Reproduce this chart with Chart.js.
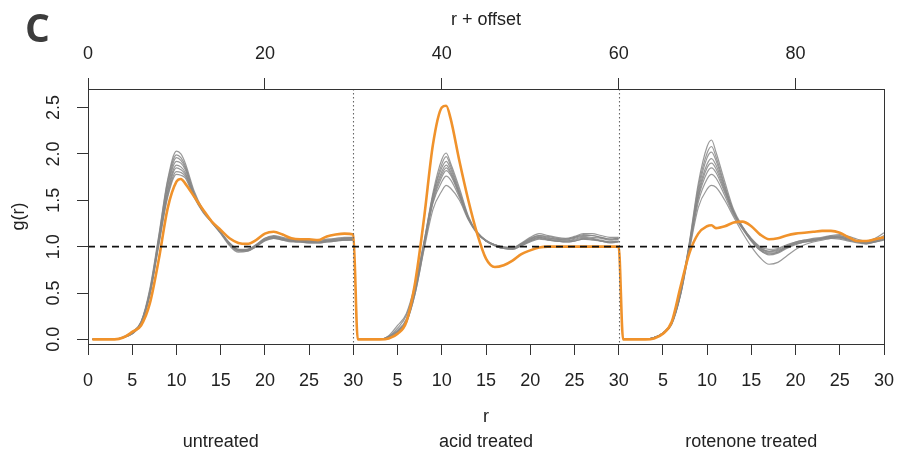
<!DOCTYPE html>
<html>
<head>
<meta charset="utf-8">
<script src="https://cdn.jsdelivr.net/npm/chart.js@4.4.1/dist/chart.umd.min.js"></script>
<style>
  html, body { margin: 0; padding: 0; background: #fff; }
</style>
</head>
<body>
<canvas id="gr-chart" width="897" height="452"></canvas>
<script>
// r values sampled in every panel
const rGrid = [0.5, 1, 2, 3, 4, 5, 6, 7, 8, 9, 10, 10.5, 11, 12, 13, 14, 15, 16, 17, 18, 19, 20,
               21, 22, 23, 24, 25, 26, 27, 28, 29, 30];

const panelOffsets = [0, 30, 60];
const panelNames = ['untreated', 'acid treated', 'rotenone treated'];
const yTicks = [0, 0.5, 1, 1.5, 2, 2.5];
const refLevel = 1;

// untreated replicates (grey)
const untreatedGray = [
    [0,0,0,0,0.02,0.07,0.19,0.55,1.12,1.72,2.03,2.00,1.90,1.60,1.40,1.27,1.15,1.02,0.95,0.96,1.01,1.08,1.11,1.09,1.07,1.06,1.06,1.05,1.07,1.08,1.09,1.09],
    [0,0,0,0,0.02,0.06,0.18,0.53,1.10,1.70,1.99,1.96,1.87,1.58,1.39,1.26,1.14,1.01,0.94,0.95,1.00,1.07,1.10,1.08,1.06,1.05,1.05,1.05,1.06,1.07,1.08,1.08],
    [0,0,0,0,0.02,0.07,0.17,0.50,1.07,1.66,1.96,1.93,1.85,1.57,1.39,1.27,1.15,1.03,0.96,0.97,1.02,1.09,1.12,1.10,1.08,1.07,1.07,1.07,1.08,1.09,1.10,1.10],
    [0,0,0,0,0.03,0.08,0.19,0.52,1.08,1.64,1.92,1.90,1.83,1.56,1.39,1.27,1.15,1.03,0.96,0.96,1.01,1.08,1.10,1.08,1.06,1.06,1.05,1.05,1.06,1.07,1.08,1.08],
    [0,0,0,0,0.02,0.06,0.17,0.49,1.04,1.60,1.88,1.86,1.80,1.55,1.38,1.27,1.16,1.04,0.97,0.97,1.02,1.09,1.11,1.09,1.07,1.07,1.06,1.06,1.07,1.08,1.09,1.10],
    [0,0,0,0,0.02,0.07,0.18,0.50,1.05,1.58,1.85,1.83,1.78,1.55,1.38,1.27,1.15,1.03,0.96,0.96,1.01,1.07,1.10,1.08,1.07,1.06,1.05,1.05,1.06,1.07,1.07,1.08],
    [0,0,0,0,0.02,0.06,0.16,0.48,1.02,1.55,1.81,1.80,1.76,1.54,1.38,1.26,1.15,1.04,0.97,0.96,1.01,1.07,1.09,1.07,1.06,1.05,1.04,1.04,1.05,1.06,1.07,1.07],
    [0,0,0,0,0.02,0.07,0.18,0.49,1.02,1.53,1.78,1.77,1.74,1.53,1.37,1.26,1.15,1.04,0.96,0.95,1.00,1.06,1.09,1.07,1.05,1.05,1.04,1.04,1.05,1.06,1.07,1.07]
];

// acid treated replicates (grey)
const acidGray = [
    [0,0,0,0,0.03,0.10,0.22,0.55,1.05,1.58,1.94,2.01,1.90,1.63,1.33,1.15,1.06,1.02,0.99,0.98,1.03,1.09,1.12,1.10,1.08,1.08,1.10,1.13,1.12,1.10,1.08,1.09],
    [0,0,0,0,0.02,0.08,0.20,0.53,1.03,1.55,1.89,1.97,1.87,1.60,1.32,1.15,1.06,1.01,0.98,0.97,1.01,1.06,1.10,1.08,1.07,1.06,1.08,1.10,1.09,1.07,1.05,1.06],
    [0,0,0,0,0.03,0.12,0.26,0.58,1.06,1.55,1.85,1.92,1.84,1.58,1.31,1.15,1.06,1.02,0.99,0.98,1.03,1.08,1.12,1.11,1.09,1.08,1.10,1.12,1.12,1.10,1.08,1.09],
    [0,0,0,0,0.02,0.07,0.19,0.52,1.01,1.52,1.81,1.88,1.81,1.57,1.31,1.15,1.06,1.02,0.99,0.98,1.02,1.07,1.10,1.08,1.06,1.06,1.07,1.09,1.08,1.06,1.05,1.05],
    [0,0,0,0,0.03,0.09,0.21,0.54,1.02,1.50,1.78,1.85,1.79,1.56,1.31,1.16,1.07,1.02,0.99,0.99,1.04,1.10,1.14,1.12,1.10,1.09,1.11,1.14,1.14,1.12,1.10,1.10],
    [0,0,0,0,0.02,0.07,0.18,0.50,0.99,1.48,1.75,1.82,1.77,1.55,1.30,1.15,1.06,1.01,0.98,0.97,1.01,1.05,1.08,1.07,1.06,1.05,1.06,1.08,1.07,1.06,1.04,1.05],
    [0,0,0,0,0.04,0.15,0.28,0.60,1.04,1.47,1.70,1.76,1.72,1.53,1.30,1.15,1.07,1.02,1.00,0.99,1.03,1.08,1.11,1.09,1.08,1.07,1.09,1.11,1.10,1.09,1.07,1.08],
    [0,0,0,0,0.02,0.08,0.19,0.50,0.97,1.40,1.60,1.66,1.63,1.50,1.29,1.14,1.06,1.01,0.98,0.98,1.02,1.06,1.09,1.07,1.06,1.05,1.06,1.08,1.08,1.06,1.05,1.06]
];

// rotenone treated replicates (grey)
const rotenoneGray = [
    [0,0,0,0,0.02,0.06,0.18,0.52,1.05,1.68,2.08,2.15,2.02,1.70,1.40,1.22,1.08,0.98,0.94,0.95,1.00,1.04,1.06,1.07,1.08,1.10,1.10,1.08,1.06,1.04,1.05,1.08],
    [0,0,0,0,0.02,0.07,0.19,0.53,1.04,1.64,2.01,2.08,1.97,1.66,1.38,1.21,1.07,0.97,0.93,0.94,0.99,1.03,1.05,1.07,1.09,1.11,1.10,1.07,1.05,1.04,1.06,1.10],
    [0,0,0,0,0.02,0.06,0.17,0.50,1.02,1.60,1.96,2.02,1.93,1.64,1.38,1.21,1.08,0.99,0.95,0.96,1.00,1.04,1.06,1.08,1.09,1.11,1.12,1.09,1.06,1.05,1.07,1.12],
    [0,0,0,0,0.02,0.07,0.18,0.51,1.02,1.57,1.89,1.95,1.88,1.62,1.37,1.20,1.06,0.96,0.92,0.94,0.99,1.03,1.05,1.06,1.08,1.09,1.08,1.06,1.04,1.03,1.05,1.08],
    [0,0,0,0,0.02,0.06,0.17,0.49,1.00,1.54,1.85,1.90,1.84,1.60,1.36,1.20,1.07,0.98,0.95,0.97,1.01,1.05,1.07,1.09,1.10,1.12,1.13,1.11,1.08,1.06,1.09,1.15],
    [0,0,0,0,0.02,0.07,0.18,0.50,1.01,1.52,1.80,1.85,1.80,1.58,1.36,1.21,1.09,1.00,0.97,0.98,1.02,1.05,1.07,1.08,1.09,1.10,1.09,1.07,1.05,1.04,1.06,1.09],
    [0,0,0,0,0.02,0.06,0.16,0.48,0.98,1.48,1.73,1.78,1.74,1.55,1.34,1.19,1.06,0.96,0.91,0.93,0.98,1.02,1.05,1.07,1.09,1.11,1.11,1.09,1.06,1.04,1.06,1.10],
    [0,0,0,0,0.02,0.07,0.17,0.48,0.96,1.42,1.62,1.66,1.64,1.50,1.32,1.15,1.00,0.88,0.81,0.83,0.90,0.97,1.02,1.05,1.07,1.09,1.10,1.08,1.05,1.03,1.05,1.07]
];

// highlighted sample (orange), one array per panel
const untreatedOrange = [0,0,0,0,0.02,0.08,0.15,0.39,0.86,1.41,1.70,1.73,1.68,1.54,1.40,1.27,1.18,1.09,1.04,1.03,1.07,1.14,1.16,1.13,1.09,1.08,1.08,1.07,1.11,1.13,1.14,1.13];
const acidOrange = [0,0,0,0,0.01,0.06,0.19,0.62,1.31,2.10,2.50,2.52,2.38,1.92,1.50,1.14,0.87,0.78,0.80,0.85,0.92,0.96,0.99,1.00,1.00,1.00,1.00,1.00,1.00,1.00,1.00,1.00];
const rotenoneOrange = [0,0,0,0,0.01,0.06,0.19,0.57,0.93,1.14,1.22,1.23,1.20,1.22,1.26,1.27,1.22,1.13,1.08,1.09,1.12,1.14,1.15,1.16,1.17,1.17,1.15,1.10,1.06,1.06,1.08,1.10];

const FONT = '"Liberation Sans", Arial, sans-serif';
const TEXT = '#222';
const AXIS = '#333';

function toPoints(values, offset) {
    return values.map((v, i) => ({ x: rGrid[i] + offset, y: v }));
}

function bottomLabel(v) {
    if (v === 0) return '0';
    const m = v % 30;
    return m === 0 ? '30' : String(m);
}

const datasets = [];
datasets.push({
    data: [
        ...toPoints(untreatedOrange, panelOffsets[0]),
        ...toPoints(acidOrange, panelOffsets[1]),
        ...toPoints(rotenoneOrange, panelOffsets[2])
    ],
    borderColor: '#f0922b',
    borderWidth: 2.6
});
[untreatedGray, acidGray, rotenoneGray].forEach((reps, p) => {
    reps.forEach(rep => {
        datasets.push({
            data: toPoints(rep, panelOffsets[p]),
            borderColor: 'rgba(135,135,135,0.85)',
            borderWidth: 1.2
        });
    });
});

const overlay = {
    id: 'overlay',
    afterDatasetsDraw(chart) {
        const { ctx, chartArea: a, scales: { x, y } } = chart;
        ctx.save();
        // panel separators
        ctx.strokeStyle = '#666';
        ctx.lineWidth = 1.1;
        ctx.setLineDash([1.5, 2.5]);
        [30, 60].forEach(b => {
            const px = Math.round(x.getPixelForValue(b)) + 0.5;
            ctx.beginPath();
            ctx.moveTo(px, a.top);
            ctx.lineTo(px, a.bottom);
            ctx.stroke();
        });
        // g(r) = 1 reference
        ctx.strokeStyle = '#111';
        ctx.lineWidth = 1.6;
        ctx.setLineDash([7, 5]);
        const py = y.getPixelForValue(refLevel);
        ctx.beginPath();
        ctx.moveTo(a.left, py);
        ctx.lineTo(a.right, py);
        ctx.stroke();
        ctx.restore();
    },
    afterDraw(chart) {
        const { ctx, chartArea: a, scales: { x, y } } = chart;
        ctx.save();
        ctx.strokeStyle = AXIS;
        ctx.lineWidth = 1;
        ctx.strokeRect(a.left + 0.5, a.top + 0.5, a.right - a.left, a.bottom - a.top);

        ctx.fillStyle = TEXT;
        ctx.font = '18px ' + FONT;
        // rotated y tick labels
        yTicks.forEach(v => {
            ctx.save();
            ctx.translate(53.5, y.getPixelForValue(v));
            ctx.rotate(-Math.PI / 2);
            ctx.textAlign = 'center';
            ctx.textBaseline = 'middle';
            ctx.fillText(v.toFixed(1), 0, 1);
            ctx.restore();
        });
        // panel names
        ctx.textAlign = 'center';
        ctx.textBaseline = 'alphabetic';
        panelNames.forEach((name, i) => {
            ctx.fillText(name, x.getPixelForValue(panelOffsets[i] + 15), 447);
        });
        // panel letter
        ctx.fillStyle = '#3c3c3c';
        ctx.font = 'bold 39px "Open Sans", ' + FONT;
        ctx.textAlign = 'left';
        ctx.fillText('C', 25, 42);
        ctx.restore();
    }
};

// keep the label overhang from shrinking the plot box
function fitHeight(h) {
    return s => {
        s.height = h;
        s.paddingLeft = 0;
        s.paddingRight = 0;
    };
}

const ctx = document.getElementById('gr-chart').getContext('2d');
Chart.defaults.font.family = FONT;
Chart.defaults.font.size = 18;
Chart.defaults.color = TEXT;

new Chart(ctx, {
    type: 'line',
    data: { datasets: datasets },
    options: {
        responsive: false,
        animation: false,
        devicePixelRatio: 1,
        layout: { autoPadding: false, padding: { left: 0, right: 13, top: 0, bottom: 0 } },
        elements: {
            point: { radius: 0, hoverRadius: 0 },
            line: { cubicInterpolationMode: 'monotone', fill: false }
        },
        plugins: { legend: { display: false }, tooltip: { enabled: false } },
        scales: {
            x: {
                type: 'linear',
                position: 'bottom',
                min: 0,
                max: 90,
                afterFit: fitHeight(108),
                ticks: {
                    stepSize: 5,
                    autoSkip: false,
                    maxRotation: 0,
                    includeBounds: false,
                    padding: 15,
                    callback: bottomLabel
                },
                grid: { drawOnChartArea: false, drawTicks: true, tickLength: 11, color: AXIS },
                border: { display: true, color: AXIS, width: 1 },
                title: { display: true, text: 'r', padding: { top: 0, bottom: 24 } }
            },
            x2: {
                type: 'linear',
                position: 'top',
                min: 0,
                max: 90,
                afterFit: fitHeight(89),
                ticks: {
                    stepSize: 20,
                    autoSkip: false,
                    maxRotation: 0,
                    includeBounds: false,
                    padding: 13
                },
                grid: { drawOnChartArea: false, drawTicks: true, tickLength: 11, color: AXIS },
                border: { display: true, color: AXIS, width: 1 },
                title: { display: true, text: 'r + offset', padding: { top: 9, bottom: 0 } }
            },
            y: {
                type: 'linear',
                position: 'left',
                min: -0.05,
                max: 2.7,
                afterFit: s => { s.width = 88; },
                ticks: { display: false, stepSize: 0.5, includeBounds: false },
                grid: { drawOnChartArea: false, drawTicks: true, tickLength: 11, color: AXIS },
                border: { display: true, color: AXIS, width: 1 },
                title: { display: true, text: 'g(r)', padding: { top: 8, bottom: 0 } }
            }
        }
    },
    plugins: [overlay]
});
</script>
</body>
</html>
